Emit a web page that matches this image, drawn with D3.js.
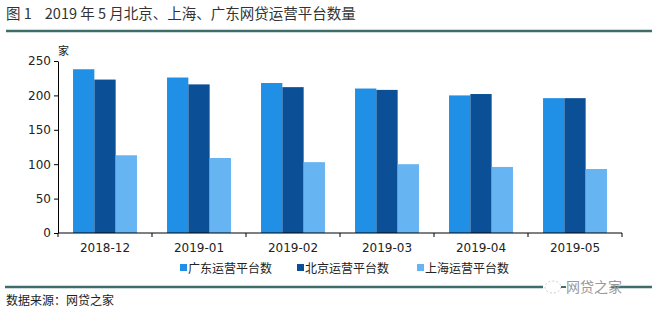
<!DOCTYPE html>
<html>
<head>
<meta charset="utf-8">
<script src="https://cdn.jsdelivr.net/npm/d3@7"></script>
<style>
  body { margin: 0; background: #fff; }
  svg { display: block; font-family: "Microsoft YaHei", "Noto Sans CJK SC", sans-serif; }
</style>
</head>
<body>
<div id="canvas"></div>
<script>
const months = ["2018-12", "2019-01", "2019-02", "2019-03", "2019-04", "2019-05"];
const seriesNames = ["广东运营平台数", "北京运营平台数", "上海运营平台数"];
const guangdong = [238, 226, 218, 210, 200, 196];
const beijing = [223, 216, 212, 208, 202, 196];
const shanghai = [113, 109, 103, 100, 96, 93];
const yTicks = [0, 50, 100, 150, 200, 250];
const colors = ["#2090e6", "#0b5096", "#66b4f2"];

const W = 658, H = 310;
const plot = { left: 58, right: 622, top: 61, bottom: 233 };

const svg = d3.select("#canvas").append("svg")
  .attr("width", W).attr("height", H);

// title
svg.append("text")
  .attr("x", 6).attr("y", 19)
  .style("font-size", "14.5px").style("fill", "#333")
  .style("white-space", "pre")
  .text("图 1    2019 年 5 月北京、上海、广东网贷运营平台数量");

svg.append("line")
  .attr("x1", 6).attr("x2", 652).attr("y1", 31).attr("y2", 31)
  .style("stroke", "#3f6e6a").style("stroke-width", 2.5);

const x0 = d3.scaleBand().domain(months).range([plot.left, plot.right]).paddingInner(0.32).paddingOuter(0.16);
const x1 = d3.scaleBand().domain(seriesNames).range([0, x0.bandwidth()]);
const y = d3.scaleLinear().domain([0, 250]).range([plot.bottom, plot.top]);

const data = months.map((m, i) => ({ month: m, values: [guangdong[i], beijing[i], shanghai[i]] }));

// bars
const groups = svg.append("g").selectAll("g")
  .data(data).enter().append("g")
  .attr("transform", d => `translate(${x0(d.month)},0)`);

groups.selectAll("rect")
  .data(d => d.values.map((v, k) => ({ name: seriesNames[k], v: v, k: k })))
  .enter().append("rect")
  .attr("x", d => x1(d.name))
  .attr("width", x1.bandwidth())
  .attr("y", d => y(d.v))
  .attr("height", d => plot.bottom - y(d.v))
  .style("fill", d => colors[d.k]);

// y axis
const yAxis = svg.append("g")
  .attr("transform", `translate(${plot.left},0)`)
  .call(d3.axisLeft(y).tickValues(yTicks).tickSize(4).tickSizeOuter(0));
yAxis.select(".domain").style("stroke", "#000");
yAxis.selectAll("line").style("stroke", "#000");
yAxis.selectAll("text").style("font-size", "12px").style("fill", "#222")
  .style("font-family", "Segoe UI, 'DejaVu Sans', sans-serif").attr("x", -7);

// x axis with ticks at category boundaries
const edge = d3.scaleLinear().domain([0, months.length]).range([plot.left, plot.right]);
svg.append("line")
  .attr("x1", plot.left).attr("x2", plot.right)
  .attr("y1", plot.bottom).attr("y2", plot.bottom)
  .style("stroke", "#000");
svg.append("g").selectAll("line")
  .data(d3.range(months.length + 1)).enter().append("line")
  .attr("x1", d => edge(d)).attr("x2", d => edge(d))
  .attr("y1", plot.bottom).attr("y2", plot.bottom + 4)
  .style("stroke", "#000");
svg.append("g").selectAll("text")
  .data(months).enter().append("text")
  .attr("x", d => x0(d) + x0.bandwidth() / 2)
  .attr("y", 252)
  .attr("text-anchor", "middle")
  .style("font-size", "12px").style("fill", "#222")
  .style("font-family", "Segoe UI, 'DejaVu Sans', sans-serif")
  .text(d => d);

// unit
svg.append("text")
  .attr("x", 58).attr("y", 55)
  .style("font-size", "11px").style("fill", "#222")
  .text("家");

// legend
const legendX = [180, 297, 417];
const legend = svg.append("g").selectAll("g")
  .data(seriesNames).enter().append("g")
  .attr("transform", (d, i) => `translate(${legendX[i]},268)`);
legend.append("rect")
  .attr("x", 0).attr("y", -4).attr("width", 7).attr("height", 7)
  .style("fill", (d, i) => colors[i]);
legend.append("text")
  .attr("x", 8).attr("y", 4.5)
  .style("font-size", "12px").style("fill", "#222")
  .text(d => d);

// bottom rule with watermark
svg.append("line")
  .attr("x1", 5).attr("x2", 652).attr("y1", 287).attr("y2", 287)
  .style("stroke", "#3f6e6a").style("stroke-width", 2.5);
svg.append("rect")
  .attr("x", 543).attr("y", 277).attr("width", 68).attr("height", 20)
  .style("fill", "#fff");
svg.append("ellipse")
  .attr("cx", 553).attr("cy", 287).attr("rx", 8).attr("ry", 6)
  .style("fill", "none").style("stroke", "#ccc").style("stroke-dasharray", "2,2");
svg.append("line")
  .attr("x1", 561).attr("x2", 566).attr("y1", 287).attr("y2", 287)
  .style("stroke", "#3f6e6a").style("stroke-width", 2);
svg.append("text")
  .attr("x", 566).attr("y", 292)
  .style("font-size", "14px").style("fill", "#999")
  .text("网贷之家");

// source
svg.append("text")
  .attr("x", 6).attr("y", 305)
  .style("font-size", "12px").style("fill", "#222")
  .text("数据来源：网贷之家");
</script>
</body>
</html>
